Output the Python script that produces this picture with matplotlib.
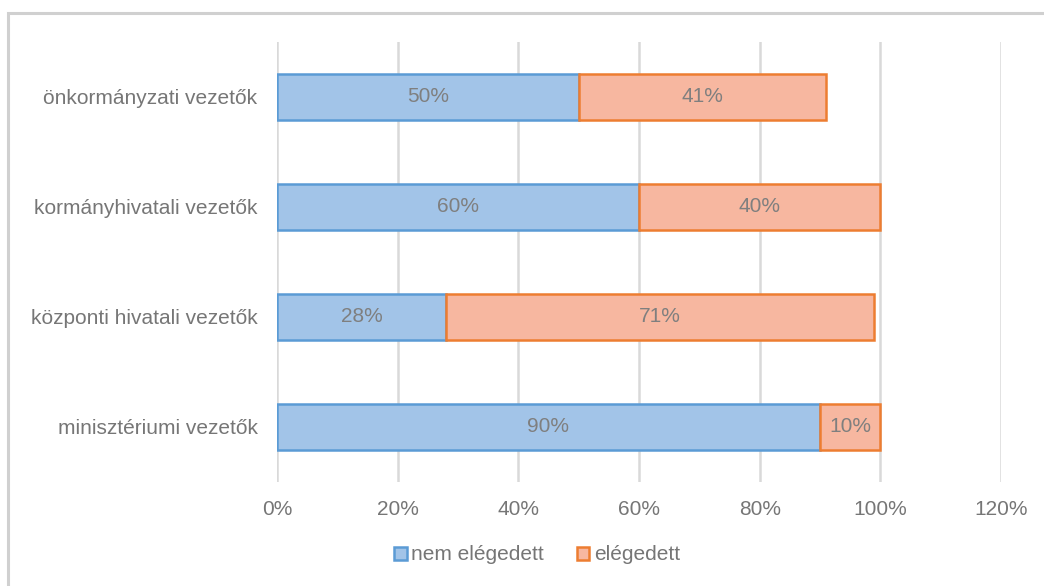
import numpy as np
from matplotlib import pyplot as plt
from matplotlib.patches import Rectangle

plt.rcParams['font.family'] = ['Liberation Sans', 'DejaVu Sans']

# data (bottom to top)
categories = ['minisztériumi vezetők', 'központi hivatali vezetők',
              'kormányhivatali vezetők', 'önkormányzati vezetők']
nem_elegedett = [90, 28, 60, 50]
elegedett = [10, 71, 40, 41]
xticks = [0, 20, 40, 60, 80, 100, 120]

W, H = 1044, 586
fig = plt.figure(figsize=(W / 100, H / 100), dpi=100)
ax = fig.add_axes([277 / W, (H - 482) / H, (1001 - 277) / W, 440 / H])

# outer border (cut off at right and bottom)
fig.patches.append(Rectangle((8 / W, -0.1), 1.2, 1.1 - 13 / H, transform=fig.transFigure,
                             fill=False, edgecolor='#d0d0d0', linewidth=2.2))

y = np.arange(len(categories))
grey = '#7f7f7f'
b1 = ax.barh(y, nem_elegedett, height=0.41, color='#a2c4e8', edgecolor='#5b9bd5',
             linewidth=1.8, label='nem elégedett', zorder=3)
b2 = ax.barh(y, elegedett, left=nem_elegedett, height=0.41, color='#f7b7a0',
             edgecolor='#ed7d31', linewidth=1.8, label='elégedett', zorder=3)

for bars in (b1, b2):
    for r in bars:
        ax.text(r.get_x() + r.get_width() / 2, r.get_y() + r.get_height() / 2,
                f'{r.get_width():.0f}%', ha='center', va='center',
                color=grey, fontsize=15, zorder=4)

ax.set_xlim(0, 120)
ax.set_ylim(-0.5, len(categories) - 0.5)
ax.set_xticks(xticks)
ax.set_xticklabels([f'{v}%' for v in xticks])
ax.set_yticks(y)
ax.set_yticklabels(categories)
ax.tick_params(axis='both', length=0, labelsize=15, labelcolor='#767676')
ax.tick_params(axis='x', pad=13)
ax.tick_params(axis='y', pad=14)
ax.grid(axis='x', color='#d9d9d9', linewidth=1.8, zorder=0)
for s in ax.spines.values():
    s.set_visible(False)

fig.legend(handles=[b1, b2], loc='center', bbox_to_anchor=(537 / W, 1 - 555 / H),
           ncol=2, frameon=False, fontsize=15, handlelength=0.6, handleheight=0.6,
           handletextpad=0.2, columnspacing=1.6, labelcolor='#767676')

plt.savefig('out.png', dpi=100)
